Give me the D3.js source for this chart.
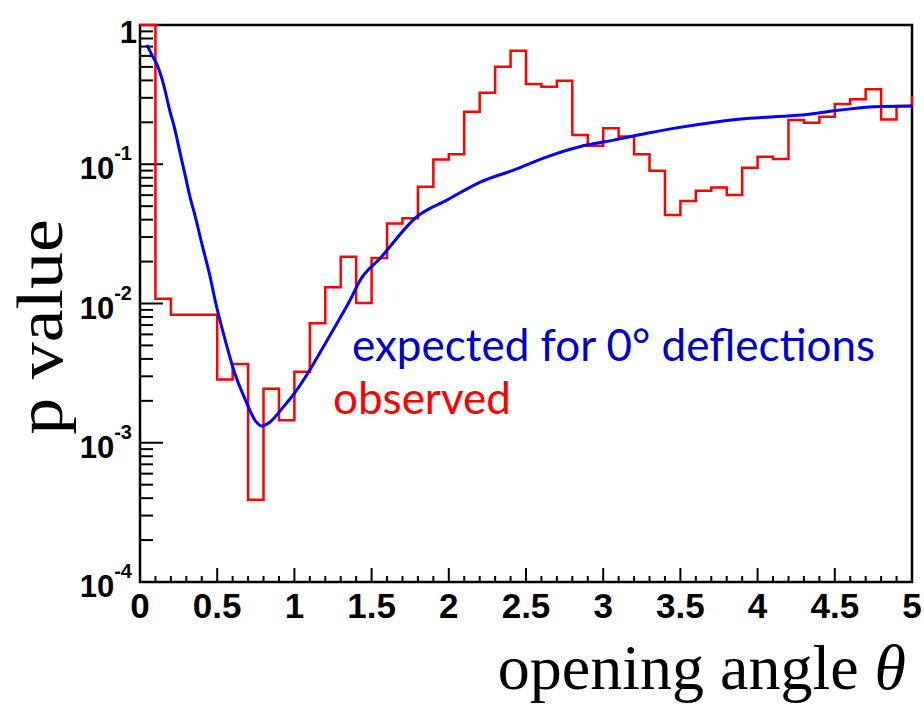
<!DOCTYPE html>
<html>
<head>
<meta charset="utf-8">
<script src="https://cdn.jsdelivr.net/npm/d3@7/dist/d3.min.js"></script>
<style>
  body { margin: 0; background: #fff; }
  svg { display: block; }
</style>
</head>
<body>
<svg id="chart" width="924" height="707"></svg>
<script>
// observed p value per 0.1-wide bin of opening angle (bin low edges)
const binLow = [0.0, 0.1, 0.2, 0.3, 0.4, 0.5, 0.6, 0.7, 0.8, 0.9,
  1.0, 1.1, 1.2, 1.3, 1.4, 1.5, 1.6, 1.7, 1.8, 1.9,
  2.0, 2.1, 2.2, 2.3, 2.4, 2.5, 2.6, 2.7, 2.8, 2.9,
  3.0, 3.1, 3.2, 3.3, 3.4, 3.5, 3.6, 3.7, 3.8, 3.9,
  4.0, 4.1, 4.2, 4.3, 4.4, 4.5, 4.6, 4.7, 4.8, 4.9];
const binHigh = 5.0;
const observed = [1.0, 0.0108, 0.0083, 0.0083, 0.0083, 0.00285, 0.00367, 0.00039, 0.00244, 0.00145,
  0.00323, 0.0072, 0.0131, 0.0217, 0.0101, 0.0212, 0.0376, 0.0409, 0.0689, 0.108,
  0.118, 0.238, 0.326, 0.502, 0.654, 0.377, 0.36, 0.398, 0.162, 0.136,
  0.181, 0.158, 0.118, 0.0898, 0.0432, 0.0544, 0.0645, 0.0682, 0.0601, 0.0944,
  0.113, 0.109, 0.208, 0.199, 0.219, 0.271, 0.293, 0.345, 0.21, 0.262];

// expected curve for 0 degree deflections
const expTheta = [0.045, 0.08, 0.11, 0.14, 0.162, 0.19, 0.227, 0.26, 0.292, 0.324,
  0.356, 0.4, 0.454, 0.486, 0.551, 0.616, 0.681, 0.745, 0.79, 0.842,
  0.929, 1.015, 1.1, 1.188, 1.275, 1.361, 1.426, 1.555, 1.793, 1.988,
  2.204, 2.419, 2.636, 2.852, 3.067, 3.284, 3.456, 3.673, 3.889, 4.105,
  4.321, 4.537, 4.753, 5.0];
const expP = [0.72, 0.6, 0.52, 0.42, 0.34, 0.25, 0.176, 0.12, 0.084, 0.058,
  0.043, 0.027, 0.0156, 0.0106, 0.0055, 0.0031, 0.00205, 0.00145, 0.00132, 0.00141,
  0.00181, 0.00239, 0.00333, 0.00489, 0.00719, 0.0106, 0.0147, 0.0211, 0.042, 0.0553,
  0.0745, 0.0908, 0.113, 0.134, 0.149, 0.167, 0.181, 0.197, 0.211, 0.219,
  0.228, 0.245, 0.259, 0.262];

const xTicks = [0, 0.5, 1, 1.5, 2, 2.5, 3, 3.5, 4, 4.5, 5];
const yDecades = [0, -1, -2, -3, -4];

const margin = { top: 25, right: 12, bottom: 125, left: 140 };
const width = 924 - margin.left - margin.right;
const height = 707 - margin.top - margin.bottom;

const svg = d3.select('#chart');
const g = svg.append('g').attr('transform', `translate(${margin.left},${margin.top})`);

const x = d3.scaleLinear().domain([0, 5]).range([0, width]);
const y = d3.scaleLog().domain([1e-4, 1]).range([height, 0]);

// x ticks (major every 0.5, minor every 0.1), drawn inward
const xMinor = d3.range(0, 51).map(d => d / 10);
g.selectAll('.xminor')
  .data(xMinor)
  .enter()
  .append('line')
  .attr('x1', d => x(d))
  .attr('x2', d => x(d))
  .attr('y1', height)
  .attr('y2', (d, i) => (i % 5 === 0 ? height - 14 : height - 6))
  .attr('stroke', '#000')
  .attr('stroke-width', 2);

// y ticks, log
g.selectAll('.ytick')
  .data(y.ticks())
  .enter()
  .append('line')
  .attr('x1', 0)
  .attr('x2', d => (Math.abs(Math.log10(d) - Math.round(Math.log10(d))) < 1e-9 ? 23 : 13))
  .attr('y1', d => y(d))
  .attr('y2', d => y(d))
  .attr('stroke', '#000')
  .attr('stroke-width', 2);

// frame
g.append('rect')
  .attr('x', 0)
  .attr('y', 0)
  .attr('width', width)
  .attr('height', height)
  .attr('fill', 'none')
  .attr('stroke', '#000')
  .attr('stroke-width', 2.5);

// observed histogram
const histPts = binLow.map((b, i) => [b, observed[i]]);
histPts.push([binHigh, observed[observed.length - 1]]);
const stepLine = d3.line()
  .x(d => x(d[0]))
  .y(d => y(d[1]))
  .curve(d3.curveStepAfter);
g.append('path')
  .datum(histPts)
  .attr('d', stepLine)
  .attr('fill', 'none')
  .attr('stroke', '#ff0000')
  .attr('stroke-width', 2.5);
// closing edge at the right end
g.append('line')
  .attr('x1', x(binHigh))
  .attr('x2', x(binHigh))
  .attr('y1', y(observed[observed.length - 1]) - 10)
  .attr('y2', y(observed[observed.length - 1]))
  .attr('stroke', '#ff0000')
  .attr('stroke-width', 2.5);

// expected curve
const expLine = d3.line()
  .x(d => x(d[0]))
  .y(d => y(d[1]))
  .curve(d3.curveMonotoneX);
g.append('path')
  .datum(expTheta.map((t, i) => [t, expP[i]]))
  .attr('d', expLine)
  .attr('fill', 'none')
  .attr('stroke', '#0000ff')
  .attr('stroke-width', 3);

// x tick labels
g.selectAll('.xlab')
  .data(xTicks)
  .enter()
  .append('text')
  .attr('x', d => x(d))
  .attr('y', height + 36)
  .attr('text-anchor', 'middle')
  .attr('font-family', 'Liberation Sans, Arial, sans-serif')
  .attr('font-weight', 'bold')
  .attr('font-size', 35)
  .text(d => d);

// y tick labels
yDecades.forEach(p => {
  const t = g.append('text')
    .attr('x', p === 0 ? -3 : -8)
    .attr('y', p === 0 ? y(1) + 18 : y(Math.pow(10, p)) + 15)
    .attr('text-anchor', 'end')
    .attr('font-family', 'Liberation Sans, Arial, sans-serif')
    .attr('font-weight', 'bold')
    .attr('font-size', 31);
  if (p === 0) {
    t.text('1');
  } else {
    t.append('tspan').text('10');
    t.append('tspan')
      .attr('font-size', 20)
      .attr('dy', -19)
      .text(p);
  }
});

// axis titles
svg.append('text')
  .attr('transform', 'translate(62,327) rotate(-90) scale(1.12,1)')
  .attr('text-anchor', 'middle')
  .attr('font-family', 'Liberation Serif, Times New Roman, serif')
  .attr('font-size', 66)
  .text('p value');

const xt = svg.append('text')
  .attr('x', 906)
  .attr('y', 689)
  .attr('text-anchor', 'end')
  .attr('font-family', 'Liberation Serif, Times New Roman, serif')
  .attr('font-size', 64);
xt.append('tspan').text('opening angle ');
xt.append('tspan').attr('font-style', 'italic').text('θ');

// legend texts
svg.append('text')
  .attr('x', 352)
  .attr('y', 361)
  .attr('font-family', 'Lato, Open Sans, sans-serif')
  .attr('font-size', 44)
  .attr('fill', '#0000cc')
  .text('expected for 0° deflections');

svg.append('text')
  .attr('x', 333)
  .attr('y', 414)
  .attr('font-family', 'Lato, Open Sans, sans-serif')
  .attr('font-size', 44)
  .attr('fill', '#ff0000')
  .text('observed');
</script>
</body>
</html>
